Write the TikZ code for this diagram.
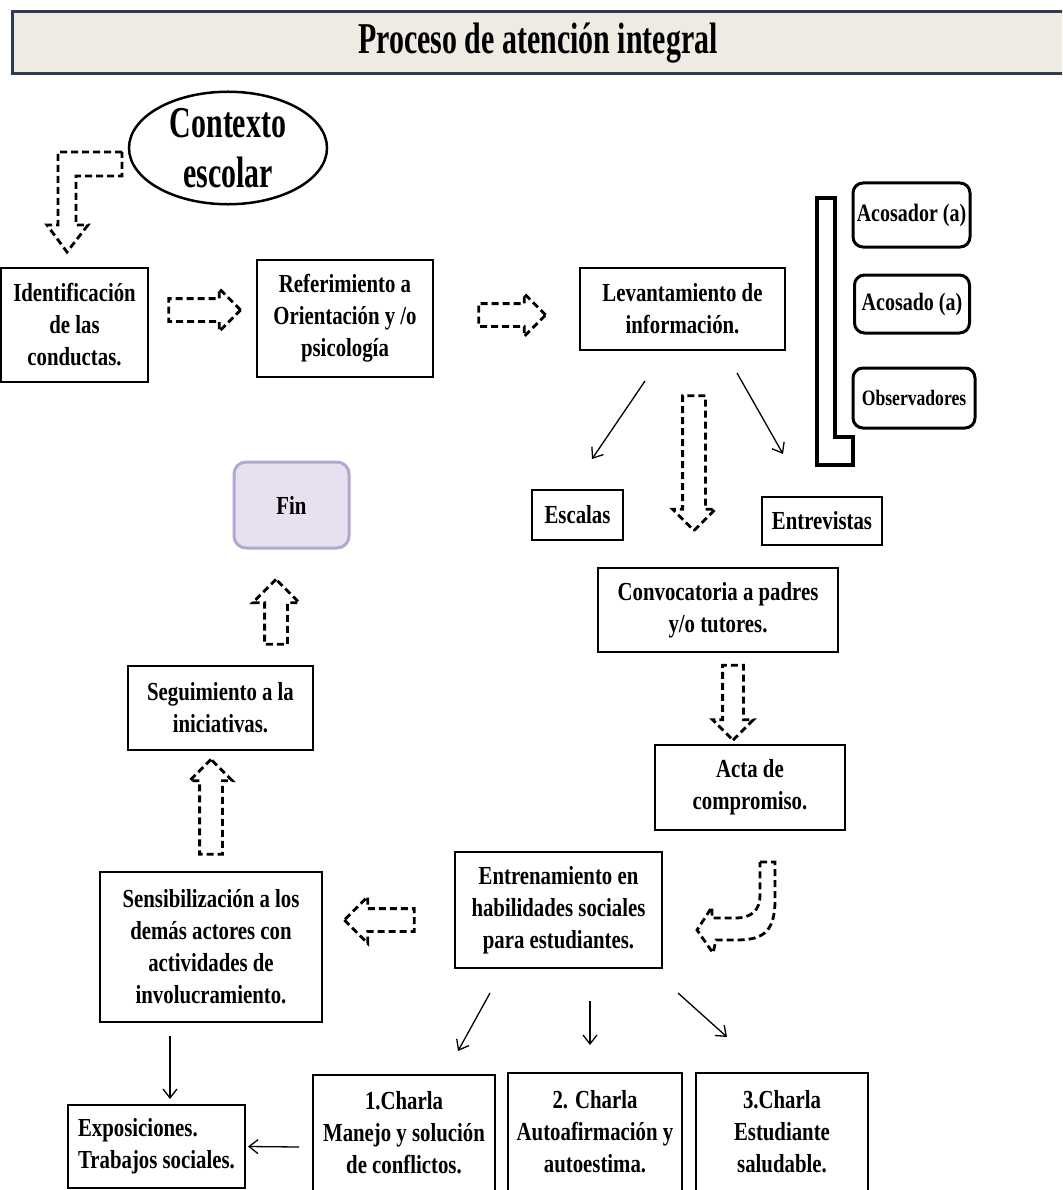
\documentclass[tikz,border=0pt]{standalone}
\usepackage{fontspec}
\setmainfont{Liberation Serif}[FakeStretch=0.8]
\newfontfamily\narrowfont{Liberation Serif}[FakeStretch=0.68]
\usetikzlibrary{shapes.geometric,shapes.arrows,arrows.meta}
\definecolor{barfill}{HTML}{EEEBE2}
\definecolor{barline}{HTML}{2F3B52}
\definecolor{finfill}{HTML}{E6E0F1}
\definecolor{finline}{HTML}{B4A7D0}

\begin{document}
\begin{tikzpicture}[x=1pt,y=-1pt,
    caja/.style={draw,line width=2pt,align=center,inner sep=3pt,font=\textfontsize\bfseries},
    cajaround/.style={caja,rounded corners=10pt,line width=3pt},
    flecha/.style={single arrow,draw,dash pattern=on 7pt off 4pt,line width=2.8pt,inner sep=10pt,
        single arrow head extend=10pt,single arrow tip angle=90},
    bent/.style={draw,dash pattern=on 7pt off 4pt,line width=2.8pt,line join=miter},
    linea/.style={line width=1.3pt,-{Straight Barb[length=9pt,width=14pt]}}]
    \providecommand{\titlefontsize}{\narrowfont\fontsize{44}{52}\selectfont}
    \providecommand{\ovalfontsize}{\narrowfont\fontsize{44}{50}\selectfont}
    \providecommand{\textfontsize}{\fontsize{26}{32}\selectfont}
    \providecommand{\smallfontsize}{\fontsize{25}{28}\selectfont}
    \useasboundingbox (0,0) rectangle (1062,1190);
    \clip (0,0) rectangle (1062,1190);
    \node[draw=barline,fill=barfill,line width=3pt,minimum width=1052pt,minimum height=62pt,
        font=\titlefontsize\bfseries] (titulo) at (538,43) {Proceso de atención integral};
    \node[ellipse,draw,line width=2.5pt,minimum width=198pt,minimum height=96pt,inner sep=0pt,
        align=center,font=\ovalfontsize\bfseries] (contexto) at (228,148) {Contexto\\escolar};
    % top row
    \node[caja,minimum width=147pt,minimum height=114pt] (ident) at (74.5,325) {Identificación\\de las\\conductas.};
    \node[caja,minimum width=176pt,minimum height=117pt] (refer) at (345,318.5) {Referimiento a\\Orientación y /o\\psicología};
    \node[caja,minimum width=205pt,minimum height=82pt] (lev) at (682.5,309) {Levantamiento de\\información.};
    \draw[line width=3.5pt] (817,198) -- (835,198) -- (835,437) -- (853,437) -- (853,465) -- (817,465) -- cycle;
    \node[cajaround,minimum width=117pt,minimum height=64pt,inner sep=0pt,font=\smallfontsize\bfseries] (acosador) at (911.5,215) {Acosador (a)};
    \node[cajaround,minimum width=115pt,minimum height=58pt,inner sep=0pt,font=\smallfontsize\bfseries] (acosado) at (912,304) {Acosado (a)};
    \node[cajaround,minimum width=122pt,minimum height=60pt,inner sep=0pt,font=\fontsize{22}{25}\selectfont\bfseries] (obs) at (914,398) {Observadores};
    \node[caja,minimum width=91pt,minimum height=50pt] (esc) at (577.5,515) {Escalas};
    \node[caja,minimum width=120pt,minimum height=48pt] (entrev) at (822,521) {Entrevistas};
    \node[caja,minimum width=240pt,minimum height=84pt] (conv) at (718,610) {Convocatoria a padres\\y/o tutores.};
    \node[caja,minimum width=190pt,minimum height=85pt] (acta) at (750,787.5) {Acta de\\compromiso.};
    \node[caja,minimum width=207pt,minimum height=116pt] (entr) at (558.5,910) {Entrenamiento en\\habilidades sociales\\para estudiantes.};
    \node[caja,minimum width=222pt,minimum height=150pt] (sens) at (211,947) {Sensibilización a los\\demás actores con\\actividades de\\involucramiento.};
    \node[caja,minimum width=185pt,minimum height=84pt] (seg) at (220.5,708) {Seguimiento a la\\iniciativas.};
    \node[caja,draw=finline,fill=finfill,rounded corners=12pt,line width=3pt,minimum width=115pt,minimum height=86pt] (fin) at (291.5,505) {Fin};
    % bottom row
    \node[caja,minimum width=177pt,minimum height=83pt,align=left] (expo) at (156.5,1146.5) {Exposiciones.\\Trabajos sociales.};
    \node[caja,minimum width=182pt,minimum height=116pt] (charla1) at (404,1133) {1.Charla\\Manejo y solución\\de conflictos.};
    \node[caja,minimum width=174pt,minimum height=118pt] (charla2) at (595,1132) {2. Charla\\Autoafirmación y\\autoestima.};
    \node[caja,minimum width=172pt,minimum height=118pt] (charla3) at (782,1132) {3.Charla\\Estudiante\\saludable.};
    % dashed block arrows
    \node[flecha,minimum height=72pt] (f1) at (199,310) {};
    \node[flecha,minimum height=67pt] (f2) at (506.5,315) {};
    \node[flecha,shape border rotate=270,minimum height=135pt] (f3) at (694,457.5) {};
    \node[flecha,shape border rotate=270,inner sep=9pt,minimum height=75pt] (f4) at (733,697.5) {};
    \node[flecha,shape border rotate=180,single arrow head extend=12pt,minimum height=70pt] (f5) at (385,920) {};
    \node[flecha,shape border rotate=90,minimum height=95pt] (f6) at (211,812.5) {};
    \node[flecha,shape border rotate=90,single arrow head extend=12pt,minimum height=65pt] (f7) at (276,617.5) {};
    \draw[bent] (122,152) -- (58,152) -- (58,225) -- (47,225) -- (67,252) -- (88,225) -- (76,225) -- (76,176) -- (122,176) -- cycle;
    \draw[bent] (760,862) -- (775,862) -- (775,900) .. controls (775,935) and (760,940) .. (735,940) -- (716,940)
        -- (713,953) -- (697,930) -- (712,907) -- (712,918) -- (735,918) .. controls (752,918) and (760,910) .. (760,895) -- cycle;
    % thin arrows
    \draw[linea] ([xshift=-37.5pt,yshift=-30pt]lev.south) -- ([xshift=14.5pt,yshift=30pt]esc.north);
    \draw[linea] ([xshift=54.5pt,yshift=-22pt]lev.south) -- ([xshift=-39pt,yshift=42pt]entrev.north);
    \draw[linea] ([xshift=-68.5pt,yshift=-24pt]entr.south) -- ([xshift=54pt,yshift=23pt]charla1.north);
    \draw[linea] ([xshift=31.5pt,yshift=-32pt]entr.south) -- ([yshift=27pt,xshift=-5pt]charla2.north);
    \draw[linea] ([xshift=119.5pt,yshift=-24pt]entr.south) -- ([xshift=-55pt,yshift=35pt]charla3.north);
    \draw[linea] ([xshift=-41pt,yshift=-13pt]sens.south) -- ([xshift=13.5pt,yshift=5pt]expo.north);
    \draw[linea] ([xshift=-13pt,yshift=-14pt]charla1.west) -- ([xshift=2pt]expo.east);
\end{tikzpicture}
\end{document}
